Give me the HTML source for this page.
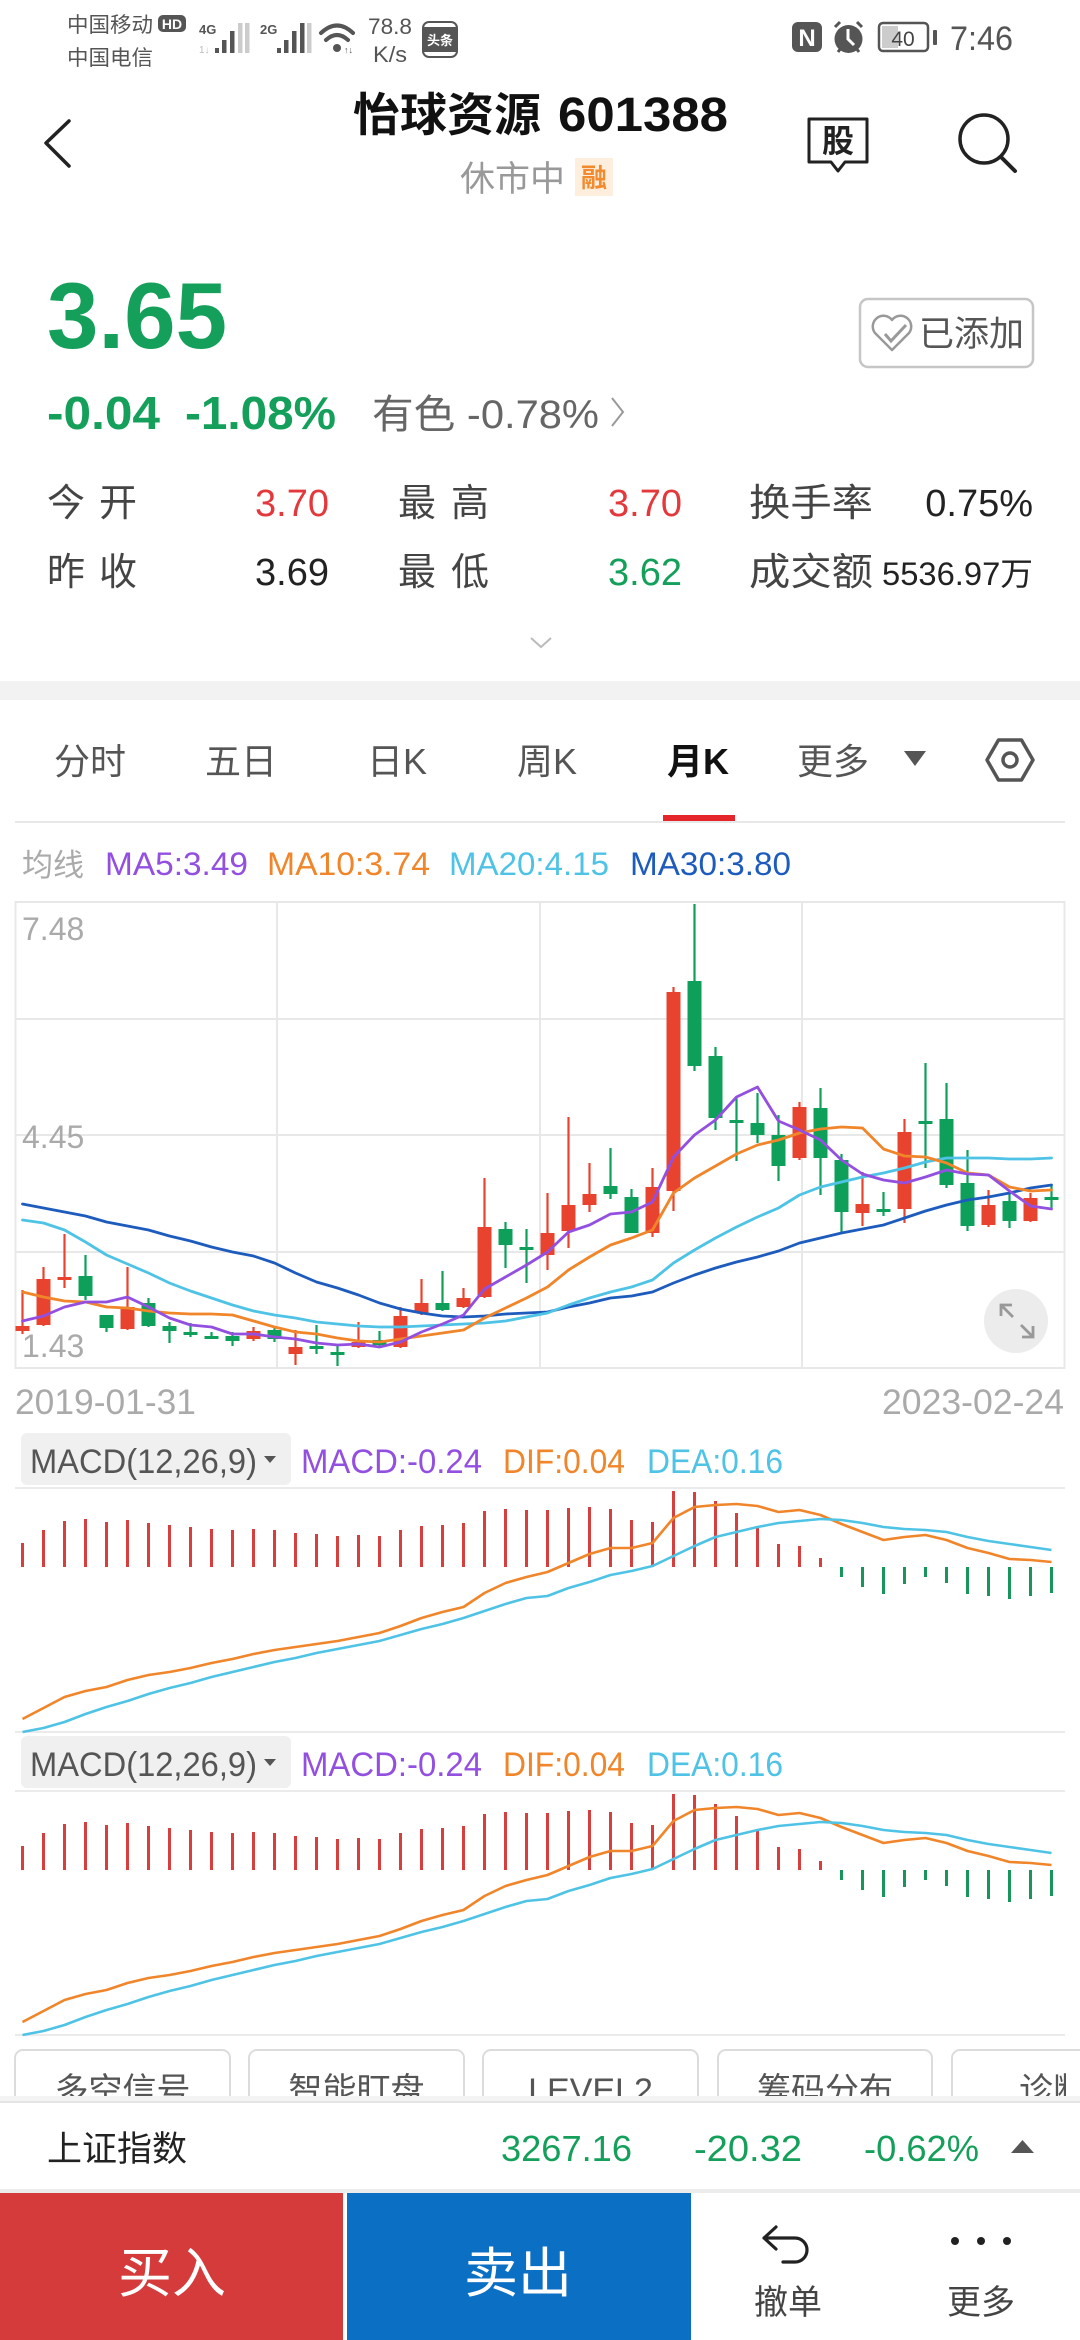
<!DOCTYPE html>
<html><head><meta charset="utf-8"><style>
html,body{margin:0;padding:0;background:#fff;}
body{width:1080px;height:2340px;overflow:hidden;}
svg{display:block;}
text{font-family:"Liberation Sans","Noto Sans CJK SC",sans-serif;}
</style></head><body>
<svg width="1080" height="2340" viewBox="0 0 1080 2340" xmlns="http://www.w3.org/2000/svg">
<defs><clipPath id="cl"><rect x="0" y="2040" width="1066" height="70"/></clipPath></defs>
<rect width="1080" height="2340" fill="#fff"/>
<!-- status bar -->
<text x="67" y="32" font-size="21" fill="#555" textLength="86" lengthAdjust="spacingAndGlyphs">中国移动</text>
<text x="67" y="65" font-size="21" fill="#555" textLength="86" lengthAdjust="spacingAndGlyphs">中国电信</text>
<rect x="158" y="15" width="28" height="17" rx="5" fill="#555"/>
<text x="172" y="29" font-size="14" font-weight="bold" fill="#fff" text-anchor="middle">HD</text>
<text x="199" y="34" font-size="13" font-weight="bold" fill="#555">4G</text>
<text x="199" y="53" font-size="10" fill="#bbb">1↓</text>
<g fill="#555"><rect x="215" y="48" width="4" height="5"/><rect x="222" y="40" width="4.5" height="13"/><rect x="230" y="31" width="4.5" height="22"/><rect x="238" y="23" width="4.5" height="30" fill="#ccc"/><rect x="245" y="23" width="4.5" height="30" fill="#ccc"/></g>
<text x="260" y="34" font-size="13" font-weight="bold" fill="#555">2G</text>
<g fill="#555"><rect x="277" y="48" width="4" height="5"/><rect x="284" y="40" width="4.5" height="13"/><rect x="292" y="31" width="4.5" height="22"/><rect x="300" y="23" width="4.5" height="30"/><rect x="307" y="23" width="4.5" height="30" fill="#ccc"/></g>
<g fill="none" stroke="#555" stroke-width="4" stroke-linecap="round"><path d="M321 33 Q337 18 353 33"/><path d="M326 40 Q337 30 348 40"/></g>
<circle cx="337" cy="48" r="4" fill="#555"/>
<text x="344" y="53" font-size="9" fill="#555">↑↓</text>
<text x="368" y="34" font-size="22" fill="#555" textLength="44" lengthAdjust="spacingAndGlyphs">78.8</text>
<text x="373" y="62" font-size="22" fill="#555" textLength="34" lengthAdjust="spacingAndGlyphs">K/s</text>
<rect x="423" y="22" width="34" height="35" rx="6" fill="#fff" stroke="#555" stroke-width="2"/>
<rect x="424" y="27" width="32" height="25" fill="#555"/>
<text x="440" y="45" font-size="13" font-weight="bold" fill="#fff" text-anchor="middle">头条</text>
<rect x="792" y="22" width="30" height="30" rx="6" fill="#555"/>
<text x="807" y="46" font-size="24" font-weight="bold" fill="#fff" text-anchor="middle">N</text>
<circle cx="848.5" cy="39" r="14" fill="#555"/>
<path d="M835 27 L840 22 M862 27 L857 22 M838 52 L841 48 M859 52 L856 48" stroke="#555" stroke-width="3"/>
<path d="M848 29 V39 L854 45" stroke="#fff" stroke-width="3" fill="none"/>
<rect x="879" y="23" width="49" height="28" rx="4" fill="none" stroke="#555" stroke-width="2.5"/>
<rect x="882" y="26" width="16" height="22" fill="#ccc"/>
<rect x="933" y="30" width="4" height="15" rx="1" fill="#555"/>
<text x="903" y="46" font-size="21" fill="#444" text-anchor="middle">40</text>
<text x="950" y="50" font-size="34" fill="#555" textLength="63" lengthAdjust="spacingAndGlyphs">7:46</text>

<!-- title bar -->
<polyline points="69,121 46,143 69,166" fill="none" stroke="#222" stroke-width="3.5" stroke-linecap="round" stroke-linejoin="round"/>
<text x="353" y="131" font-size="46" font-weight="bold" fill="#111" textLength="188" lengthAdjust="spacingAndGlyphs">怡球资源</text>
<text x="558" y="131" font-size="48" font-weight="bold" fill="#111" textLength="170" lengthAdjust="spacingAndGlyphs">601388</text>
<text x="460" y="191" font-size="35" fill="#999">休市中</text>
<rect x="575" y="158" width="38" height="38" fill="#fdeede"/>
<text x="594" y="187" font-size="26" font-weight="bold" fill="#f28a2e" text-anchor="middle">融</text>
<path d="M809 119 H867 V162 H845 L838 171 L831 162 H809 Z" fill="none" stroke="#222" stroke-width="3" stroke-linejoin="round"/>
<text x="838" y="152" font-size="32" font-weight="bold" fill="#222" text-anchor="middle">股</text>
<circle cx="984" cy="139" r="24" fill="none" stroke="#222" stroke-width="3.5"/>
<line x1="1001" y1="157" x2="1015" y2="171" stroke="#222" stroke-width="4" stroke-linecap="round"/>

<!-- price block -->
<text x="47" y="348" font-size="94" font-weight="bold" fill="#14a05b" textLength="180" lengthAdjust="spacingAndGlyphs">3.65</text>
<rect x="860" y="299" width="173" height="68" rx="8" fill="#fff" stroke="#c6c6c6" stroke-width="2.5"/>
<path d="M892 350 L875 333 A9.5 9.5 0 0 1 892 320 A9.5 9.5 0 0 1 909 333 Z" fill="none" stroke="#999" stroke-width="2.5" stroke-linejoin="round"/>
<path d="M885 334 L891 341 L906 325" fill="none" stroke="#999" stroke-width="3"/>
<text x="919" y="346" font-size="35" fill="#555" textLength="105" lengthAdjust="spacingAndGlyphs">已添加</text>
<text x="47" y="429" font-size="46" font-weight="bold" fill="#14a05b" textLength="113" lengthAdjust="spacingAndGlyphs">-0.04</text>
<text x="185" y="429" font-size="46" font-weight="bold" fill="#14a05b" textLength="151" lengthAdjust="spacingAndGlyphs">-1.08%</text>
<text x="372" y="428" font-size="40" fill="#666" textLength="227" lengthAdjust="spacingAndGlyphs">有色 -0.78%</text>
<polyline points="612,398 623,412 612,426" fill="none" stroke="#999" stroke-width="2"/>

<!-- stats -->
<g font-size="38" fill="#444">
<text x="47" y="516">今</text><text x="99" y="516">开</text>
<text x="47" y="585">昨</text><text x="99" y="585">收</text>
<text x="398" y="516">最</text><text x="451" y="516">高</text>
<text x="398" y="585">最</text><text x="451" y="585">低</text>
<text x="749" y="516" textLength="124" lengthAdjust="spacingAndGlyphs">换手率</text>
<text x="749" y="585" textLength="124" lengthAdjust="spacingAndGlyphs">成交额</text>
</g>
<g font-size="38" text-anchor="end">
<text x="329" y="516" fill="#e4393c">3.70</text>
<text x="329" y="585" fill="#222">3.69</text>
<text x="682" y="516" fill="#e4393c">3.70</text>
<text x="682" y="585" fill="#14a05b">3.62</text>
<text x="1033" y="516" fill="#222">0.75%</text>
</g>
<text x="882" y="585" font-size="32" fill="#222" textLength="151" lengthAdjust="spacingAndGlyphs">5536.97万</text>
<polyline points="531,638 541,647 551,638" fill="none" stroke="#bbb" stroke-width="2"/>
<rect x="0" y="681" width="1080" height="19" fill="#f2f2f2"/>

<!-- tabs -->
<g font-size="36" fill="#555">
<text x="54" y="774">分时</text>
<text x="205" y="774">五日</text>
<text x="367" y="774">日K</text>
<text x="517" y="774">周K</text>
<text x="667" y="774" font-weight="bold" fill="#111">月K</text>
<text x="797" y="774">更多</text>
</g>
<polygon points="904,751 926,751 915,766" fill="#555"/>
<polygon points="987,760 998.5,740 1021.5,740 1033,760 1021.5,780 998.5,780" fill="none" stroke="#555" stroke-width="3.5" stroke-linejoin="round"/>
<circle cx="1010" cy="760" r="7" fill="none" stroke="#555" stroke-width="3.5"/>
<rect x="663" y="815" width="72" height="6" fill="#e4262b"/>
<line x1="15" y1="822" x2="1065" y2="822" stroke="#e8e8e8" stroke-width="2"/>

<!-- MA legend -->
<text x="22" y="876" font-size="31" fill="#aaa">均线</text>
<text x="105" y="875" font-size="32" fill="#9350e0" textLength="143" lengthAdjust="spacingAndGlyphs">MA5:3.49</text>
<text x="267" y="875" font-size="32" fill="#f0852a" textLength="163" lengthAdjust="spacingAndGlyphs">MA10:3.74</text>
<text x="449" y="875" font-size="32" fill="#4ec3e6" textLength="160" lengthAdjust="spacingAndGlyphs">MA20:4.15</text>
<text x="630" y="875" font-size="32" fill="#1d5bbd" textLength="161" lengthAdjust="spacingAndGlyphs">MA30:3.80</text>

<!-- K chart grid -->
<g stroke="#e8e8e8" stroke-width="2" fill="none">
<rect x="15.5" y="902" width="1049" height="466"/>
<line x1="15.5" y1="1019" x2="1064.5" y2="1019"/>
<line x1="15.5" y1="1135" x2="1064.5" y2="1135"/>
<line x1="15.5" y1="1252" x2="1064.5" y2="1252"/>
<line x1="277" y1="902" x2="277" y2="1368"/>
<line x1="540" y1="902" x2="540" y2="1368"/>
<line x1="802" y1="902" x2="802" y2="1368"/>
</g>
<g font-size="32" fill="#aaa">
<text x="22" y="940">7.48</text>
<text x="22" y="1148">4.45</text>
<text x="22" y="1357">1.43</text>
</g>

<!-- candles -->
<path stroke="#e8432f" stroke-width="2.2" fill="none" d="M22.5 1290V1334M43.5 1267V1326M64.5 1234V1288M127.5 1267V1330M253.5 1327V1341M295.5 1330V1365M358.5 1322V1348M400.5 1307V1348M421.5 1279V1315M463.5 1288V1308M484.5 1178V1298M547.5 1193V1270M568.5 1117V1248M589.5 1163V1212M652.5 1168V1237M673.5 987V1211M799.5 1102V1160M862.5 1172V1226M904.5 1119V1223M988.5 1190V1227M1030.5 1193V1222"/>
<path fill="#e8432f" d="M15.5 1326h14V1331h-14ZM36.5 1279h14V1325h-14ZM57.5 1277h14V1280h-14ZM120.5 1307h14V1329h-14ZM246.5 1331h14V1339h-14ZM288.5 1347h14V1354h-14ZM351.5 1342h14V1347h-14ZM393.5 1316h14V1347h-14ZM414.5 1303h14V1313h-14ZM456.5 1298h14V1307h-14ZM477.5 1227h14V1297h-14ZM540.5 1233h14V1255h-14ZM561.5 1205h14V1231h-14ZM582.5 1194h14V1205h-14ZM645.5 1187h14V1233h-14ZM666.5 992h14V1191h-14ZM792.5 1107h14V1158h-14ZM855.5 1204h14V1213h-14ZM897.5 1132h14V1209h-14ZM981.5 1205h14V1225h-14ZM1023.5 1198h14V1221h-14Z"/>
<path stroke="#0ea05a" stroke-width="2.2" fill="none" d="M85.5 1255V1300M106.5 1315V1332M148.5 1298V1327M169.5 1322V1343M190.5 1323V1337M211.5 1332V1339M232.5 1332V1346M274.5 1327V1342M316.5 1325V1354M337.5 1344V1366M379.5 1331V1346M442.5 1271V1311M505.5 1222V1268M526.5 1229V1283M610.5 1148V1199M631.5 1189V1233M694.5 904V1071M715.5 1047V1130M736.5 1098V1161M757.5 1093V1143M778.5 1115V1181M820.5 1088V1195M841.5 1154V1232M883.5 1192V1216M925.5 1063V1168M946.5 1083V1188M967.5 1150V1231M1009.5 1190V1228M1051.5 1185V1209"/>
<path fill="#0ea05a" d="M78.5 1276h14V1296h-14ZM99.5 1315h14V1328h-14ZM141.5 1303h14V1326h-14ZM162.5 1326h14V1331h-14ZM183.5 1332h14V1335h-14ZM204.5 1336h14V1339h-14ZM225.5 1336h14V1341h-14ZM267.5 1330h14V1339h-14ZM309.5 1346h14V1349h-14ZM330.5 1352h14V1355h-14ZM372.5 1340h14V1345h-14ZM435.5 1303h14V1310h-14ZM498.5 1229h14V1245h-14ZM519.5 1247h14V1250h-14ZM603.5 1186h14V1194h-14ZM624.5 1197h14V1233h-14ZM687.5 981h14V1066h-14ZM708.5 1056h14V1118h-14ZM729.5 1120h14V1123h-14ZM750.5 1123h14V1135h-14ZM771.5 1135h14V1166h-14ZM813.5 1108h14V1158h-14ZM834.5 1160h14V1212h-14ZM876.5 1209h14V1212h-14ZM918.5 1121h14V1124h-14ZM939.5 1119h14V1185h-14ZM960.5 1183h14V1226h-14ZM1002.5 1201h14V1221h-14ZM1044.5 1197h14V1200h-14Z"/>

<!-- MA lines -->
<g fill="none" stroke-width="2.8" stroke-linejoin="round" stroke-linecap="round">
<polyline stroke="#1d5bbd" points="22.5,1204 43.5,1208 64.5,1212 85.5,1216 106.5,1222 127.5,1226 148.5,1230 169.5,1236 190.5,1241 211.5,1247 232.5,1252 253.5,1256 274.5,1263 295.5,1273 316.5,1282 337.5,1288 358.5,1295 379.5,1303 400.5,1309 421.5,1313 442.5,1316 463.5,1317 484.5,1316 505.5,1314 526.5,1313 547.5,1312 568.5,1307 589.5,1303 610.5,1298 631.5,1296 652.5,1292 673.5,1283 694.5,1275 715.5,1268 736.5,1262 757.5,1257 778.5,1251 799.5,1243 820.5,1238 841.5,1233 862.5,1229 883.5,1225 904.5,1218 925.5,1211 946.5,1205 967.5,1200 988.5,1197 1009.5,1193 1030.5,1188 1051.5,1185"/>
<polyline stroke="#4ec3e6" points="22.5,1220 43.5,1223 64.5,1230 85.5,1242 106.5,1255 127.5,1264 148.5,1273 169.5,1283 190.5,1291 211.5,1298 232.5,1305 253.5,1311 274.5,1315 295.5,1318 316.5,1322 337.5,1324 358.5,1326 379.5,1327 400.5,1327 421.5,1326 442.5,1325 463.5,1324 484.5,1323 505.5,1321 526.5,1317 547.5,1313 568.5,1305 589.5,1298 610.5,1292 631.5,1287 652.5,1280 673.5,1263 694.5,1250 715.5,1238 736.5,1227 757.5,1217 778.5,1208 799.5,1195 820.5,1187 841.5,1182 862.5,1177 883.5,1173 904.5,1168 925.5,1162 946.5,1158 967.5,1158 988.5,1158 1009.5,1159 1030.5,1159 1051.5,1158"/>
<polyline stroke="#f0852a" points="22.5,1292 43.5,1297 64.5,1301 85.5,1302 106.5,1307 127.5,1308 148.5,1311 169.5,1313 190.5,1314 211.5,1314 232.5,1315 253.5,1321 274.5,1327 295.5,1332 316.5,1334 337.5,1338 358.5,1341 379.5,1342 400.5,1339 421.5,1336 442.5,1333 463.5,1330 484.5,1318 505.5,1308 526.5,1298 547.5,1287 568.5,1270 589.5,1257 610.5,1245 631.5,1238 652.5,1230 673.5,1193 694.5,1178 715.5,1166 736.5,1154 757.5,1145 778.5,1140 799.5,1133 820.5,1129 841.5,1127 862.5,1128 883.5,1149 904.5,1156 925.5,1157 946.5,1163 967.5,1173 988.5,1175 1009.5,1187 1030.5,1191 1051.5,1190"/>
<polyline stroke="#9350e0" points="22.5,1321 43.5,1316 64.5,1307 85.5,1302 106.5,1302 127.5,1297 148.5,1307 169.5,1318 190.5,1325 211.5,1327 232.5,1334 253.5,1334 274.5,1337 295.5,1339 316.5,1343 337.5,1345 358.5,1344 379.5,1347 400.5,1342 421.5,1332 442.5,1324 463.5,1315 484.5,1289 505.5,1277 526.5,1265 547.5,1252 568.5,1232 589.5,1225 610.5,1214 631.5,1212 652.5,1202 673.5,1157 694.5,1135 715.5,1120 736.5,1097 757.5,1087 778.5,1121 799.5,1130 820.5,1140 841.5,1160 862.5,1174 883.5,1180 904.5,1183 925.5,1177 946.5,1170 967.5,1174 988.5,1175 1009.5,1191 1030.5,1206 1051.5,1209"/>
</g>
<circle cx="1016" cy="1321" r="32" fill="#ececec"/>
<path d="M1001 1316V1305H1012M1001 1305L1013 1317M1033 1326V1337H1022M1033 1337L1021 1325" fill="none" stroke="#999" stroke-width="2.8"/>

<text x="15" y="1414" font-size="35" fill="#aaa" textLength="181" lengthAdjust="spacingAndGlyphs">2019-01-31</text>
<text x="1064" y="1414" font-size="35" fill="#aaa" text-anchor="end" textLength="182" lengthAdjust="spacingAndGlyphs">2023-02-24</text>

<!-- MACD sections -->
<g id="m1">
<rect x="21" y="1433" width="270" height="52" rx="6" fill="#f0f0f0"/>
<line x1="15" y1="1488" x2="1065" y2="1488" stroke="#ebebeb" stroke-width="2"/>
<line x1="15" y1="1732" x2="1065" y2="1732" stroke="#ebebeb" stroke-width="2"/>
<polygon points="264,1456 276,1456 270,1463" fill="#555"/>
<path stroke="#d5403f" stroke-width="3" fill="none" d="M22.5 1567V1543M43.5 1567V1530M64.5 1567V1521M85.5 1567V1519M106.5 1567V1522M127.5 1567V1520M148.5 1567V1523M169.5 1567V1525M190.5 1567V1527M211.5 1567V1529M232.5 1567V1530M253.5 1567V1529M274.5 1567V1530M295.5 1567V1533M316.5 1567V1534M337.5 1567V1536M358.5 1567V1535M379.5 1567V1536M400.5 1567V1530M421.5 1567V1526M442.5 1567V1525M463.5 1567V1523M484.5 1567V1511M505.5 1567V1509M526.5 1567V1510M547.5 1567V1510M568.5 1567V1508M589.5 1567V1507M610.5 1567V1509M631.5 1567V1520M652.5 1567V1522M673.5 1567V1491M694.5 1567V1492M715.5 1567V1501M736.5 1567V1513M757.5 1567V1528M778.5 1567V1544M799.5 1567V1546M820.5 1567V1558"/>
<path stroke="#17955a" stroke-width="3" fill="none" d="M841.5 1567V1577M862.5 1567V1587M883.5 1567V1594M904.5 1567V1584M925.5 1567V1577M946.5 1567V1583M967.5 1567V1594M988.5 1567V1596M1009.5 1567V1599M1030.5 1567V1596M1051.5 1567V1593"/>
<g fill="none" stroke-width="2.6" stroke-linejoin="round">
<polyline stroke="#f0852a" points="22.5,1719 43.5,1708 64.5,1697 85.5,1691 106.5,1687 127.5,1680 148.5,1675 169.5,1672 190.5,1668 211.5,1663 232.5,1659 253.5,1654 274.5,1650 295.5,1647 316.5,1644 337.5,1641 358.5,1637 379.5,1633 400.5,1626 421.5,1618 442.5,1612 463.5,1607 484.5,1593 505.5,1583 526.5,1577 547.5,1572 568.5,1563 589.5,1554 610.5,1548 631.5,1548 652.5,1543 673.5,1518 694.5,1507 715.5,1505 736.5,1504 757.5,1506 778.5,1512 799.5,1510 820.5,1515 841.5,1524 862.5,1532 883.5,1540 904.5,1537 925.5,1535 946.5,1540 967.5,1548 988.5,1553 1009.5,1559 1030.5,1560 1051.5,1562"/>
<polyline stroke="#4ec3e6" points="22.5,1732 43.5,1728 64.5,1722 85.5,1714 106.5,1707 127.5,1701 148.5,1694 169.5,1688 190.5,1683 211.5,1677 232.5,1672 253.5,1667 274.5,1662 295.5,1658 316.5,1653 337.5,1649 358.5,1645 379.5,1641 400.5,1635 421.5,1629 442.5,1624 463.5,1618 484.5,1611 505.5,1604 526.5,1598 547.5,1596 568.5,1588 589.5,1582 610.5,1575 631.5,1571 652.5,1566 673.5,1556 694.5,1546 715.5,1537 736.5,1532 757.5,1527 778.5,1523 799.5,1521 820.5,1519 841.5,1520 862.5,1523 883.5,1527 904.5,1529 925.5,1530 946.5,1532 967.5,1537 988.5,1541 1009.5,1544 1030.5,1547 1051.5,1550"/>
</g>
</g>
<use href="#m1" transform="translate(0,303)"/>
<g font-size="34">
<text x="30" y="1473" fill="#555" textLength="227" lengthAdjust="spacingAndGlyphs">MACD(12,26,9)</text>
<text x="301" y="1473" fill="#9350e0" textLength="181" lengthAdjust="spacingAndGlyphs">MACD:-0.24</text>
<text x="503" y="1473" fill="#f0852a" textLength="122" lengthAdjust="spacingAndGlyphs">DIF:0.04</text>
<text x="647" y="1473" fill="#4ec3e6" textLength="136" lengthAdjust="spacingAndGlyphs">DEA:0.16</text>
<text x="30" y="1776" fill="#555" textLength="227" lengthAdjust="spacingAndGlyphs">MACD(12,26,9)</text>
<text x="301" y="1776" fill="#9350e0" textLength="181" lengthAdjust="spacingAndGlyphs">MACD:-0.24</text>
<text x="503" y="1776" fill="#f0852a" textLength="122" lengthAdjust="spacingAndGlyphs">DIF:0.04</text>
<text x="647" y="1776" fill="#4ec3e6" textLength="136" lengthAdjust="spacingAndGlyphs">DEA:0.16</text>
</g>

<!-- function buttons -->
<g fill="#fff" stroke="#dcdcdc" stroke-width="2">
<rect x="15" y="2050" width="215" height="90" rx="8"/>
<rect x="249" y="2050" width="215" height="90" rx="8"/>
<rect x="483" y="2050" width="215" height="90" rx="8"/>
<rect x="718" y="2050" width="214" height="90" rx="8"/>
<rect x="952" y="2050" width="215" height="90" rx="8"/>
</g>
<g font-size="34" fill="#555" text-anchor="middle">
<text x="122.5" y="2102">多空信号</text>
<text x="356.5" y="2102">智能盯盘</text>
<text x="590.5" y="2102">LEVEL2</text>
<text x="825" y="2102">筹码分布</text>
</g>
<g clip-path="url(#cl)"><text x="1019" y="2102" font-size="34" fill="#555">诊断</text></g>

<!-- index bar -->
<rect x="0" y="2096" width="1080" height="6" fill="#f4f4f4"/>
<rect x="0" y="2102" width="1080" height="88" fill="#fff"/>
<line x1="0" y1="2102" x2="1080" y2="2102" stroke="#e4e4e4" stroke-width="2"/>
<text x="47" y="2161" font-size="35" fill="#222">上证指数</text>
<g font-size="36" fill="#14a05b" text-anchor="end">
<text x="632" y="2161" textLength="131" lengthAdjust="spacingAndGlyphs">3267.16</text>
<text x="802" y="2161" textLength="108" lengthAdjust="spacingAndGlyphs">-20.32</text>
<text x="979" y="2161" textLength="115" lengthAdjust="spacingAndGlyphs">-0.62%</text>
</g>
<polygon points="1011,2153 1034,2153 1022.5,2140" fill="#555"/>
<rect x="0" y="2189" width="1080" height="4" fill="#ececec"/>

<!-- bottom buttons -->
<rect x="0" y="2193" width="343" height="147" fill="#d63b3b"/>
<rect x="347" y="2193" width="344" height="147" fill="#0b6fc4"/>
<text x="172" y="2292" font-size="54" fill="#fff" text-anchor="middle">买入</text>
<text x="518" y="2292" font-size="54" fill="#fff" text-anchor="middle">卖出</text>
<path d="M776 2227 L764 2238 L776 2249 M764 2238 H795 A12 12 0 0 1 795 2262 H783" fill="none" stroke="#222" stroke-width="3.2" stroke-linecap="round" stroke-linejoin="round"/>
<text x="788" y="2314" font-size="34" fill="#444" text-anchor="middle">撤单</text>
<circle cx="955" cy="2241" r="4" fill="#222"/><circle cx="981" cy="2241" r="4" fill="#222"/><circle cx="1007" cy="2241" r="4" fill="#222"/>
<text x="981" y="2314" font-size="34" fill="#444" text-anchor="middle">更多</text>
</svg>
</body></html>
